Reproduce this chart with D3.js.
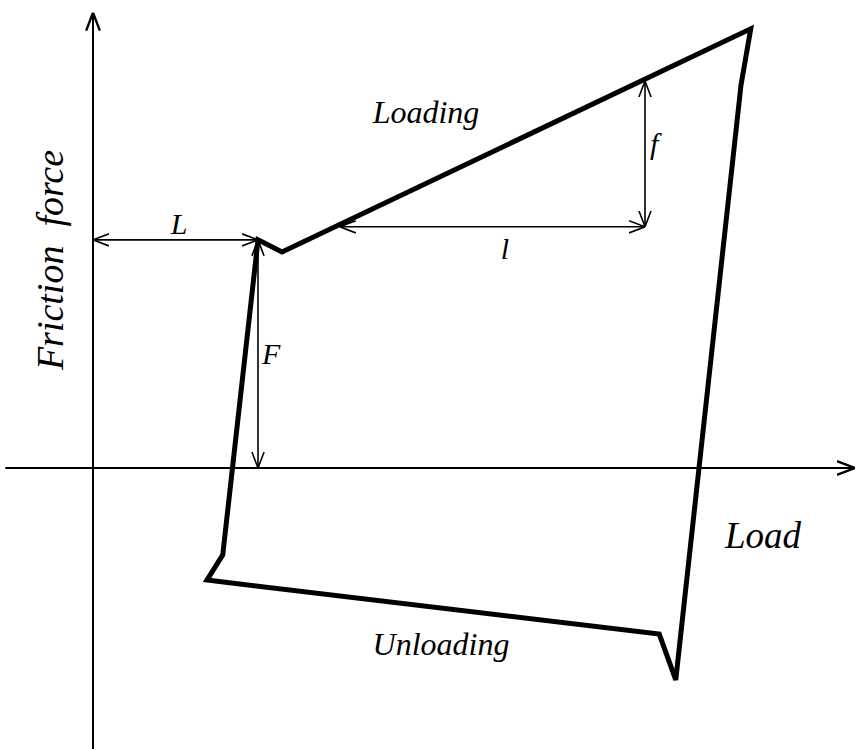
<!DOCTYPE html>
<html>
<head>
<meta charset="utf-8">
<script src="https://cdn.jsdelivr.net/npm/d3@7"></script>
<style>
  body { margin: 0; background: #fff; }
</style>
</head>
<body>
<svg id="drawing_region"></svg>
<script>
// hysteresis loop of friction force vs load (arbitrary units)
const loopX = [22.0, 25.2, 87.7, 86.4, 77.7, 75.5, 15.2, 17.3];
const loopY = [50.7, 48.0, 97.6, 85.1, -47.1, -36.9, -24.9, -19.3];

// dimension arrows: [x, y] start and end
const dimNames = ['L', 'F', 'l', 'f'];
const dimFrom = [[0, 50.7], [22.0, 50.7], [32.9, 53.6], [73.6, 53.6]];
const dimTo = [[22.0, 50.7], [22.0, 0], [73.6, 53.6], [73.6, 86.0]];

const width = 856, height = 749;
const serif = '"Liberation Serif", "Times New Roman", serif';

const xscale = d3.scaleLinear().domain([0, 100]).range([93, 843]);
const yscale = d3.scaleLinear().domain([0, 100]).range([468, 18]);

const svg = d3.select('#drawing_region')
    .attr('width', width)
    .attr('height', height);

const defs = svg.append('defs');
function marker(id, size, sw) {
    defs.append('marker')
        .attr('id', id)
        .attr('viewBox', `0 0 ${size} ${size}`)
        .attr('refX', size)
        .attr('refY', size / 2)
        .attr('markerWidth', size)
        .attr('markerHeight', size)
        .attr('markerUnits', 'userSpaceOnUse')
        .attr('orient', 'auto-start-reverse')
        .append('path')
        .attr('d', `M0,${size * 0.12} L${size},${size / 2} L0,${size * 0.88}`)
        .attr('fill', 'none')
        .attr('stroke', '#000')
        .attr('stroke-width', sw);
}
marker('axisArrow', 18, 2.4);
marker('dimArrow', 16, 1.6);

// axes
svg.append('line')
    .attr('x1', xscale(-11.7)).attr('y1', yscale(0))
    .attr('x2', xscale(101.6)).attr('y2', yscale(0))
    .attr('stroke', '#000').attr('stroke-width', 2)
    .attr('marker-end', 'url(#axisArrow)');

svg.append('line')
    .attr('x1', xscale(0)).attr('y1', yscale(-62.5))
    .attr('x2', xscale(0)).attr('y2', yscale(101.2))
    .attr('stroke', '#000').attr('stroke-width', 2)
    .attr('marker-end', 'url(#axisArrow)');

// dimension arrows
svg.selectAll('line.dim').data(dimNames)
    .join('line')
    .attr('class', 'dim')
    .attr('x1', (d, i) => xscale(dimFrom[i][0]))
    .attr('y1', (d, i) => yscale(dimFrom[i][1]))
    .attr('x2', (d, i) => xscale(dimTo[i][0]))
    .attr('y2', (d, i) => yscale(dimTo[i][1]))
    .attr('stroke', '#000')
    .attr('stroke-width', 1.6)
    .attr('marker-start', 'url(#dimArrow)')
    .attr('marker-end', 'url(#dimArrow)');

// loop
const line = d3.line()
    .x(i => xscale(loopX[i]))
    .y(i => yscale(loopY[i]))
    .curve(d3.curveLinearClosed);

svg.append('path')
    .attr('d', line(d3.range(loopX.length)))
    .attr('fill', 'none')
    .attr('stroke', '#000')
    .attr('stroke-width', 5)
    .attr('stroke-linejoin', 'miter');

// labels
function label(txt, x, y, size, anchor) {
    return svg.append('text')
        .attr('x', x).attr('y', y)
        .style('font-family', serif)
        .style('font-style', 'italic')
        .attr('font-size', size)
        .attr('text-anchor', anchor || 'middle')
        .attr('fill', '#000')
        .text(txt);
}
label('L', 179, 234, 30);
label('F', 262, 364, 30, 'start');
label('l', 505, 259, 30);
label('f', 650, 154, 30, 'start');
label('Loading', 426, 123, 32);
label('Unloading', 441, 655, 32);
label('Load', 801, 548, 37, 'end');

svg.append('text')
    .attr('transform', `translate(63, 260) rotate(-90)`)
    .style('font-family', serif)
    .style('font-style', 'italic')
    .attr('font-size', 38)
    .attr('text-anchor', 'middle')
    .style('white-space', 'pre')
    .text('Friction  force');
</script>
</body>
</html>
